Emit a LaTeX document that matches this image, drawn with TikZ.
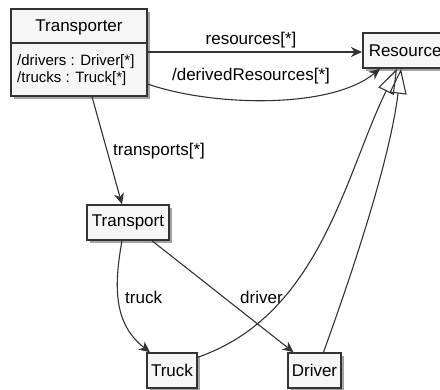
\documentclass[tikz,border=0pt]{standalone}
\usepackage{fontspec}
\setmainfont{Liberation Sans}
\usetikzlibrary{arrows.meta,shadows}
\definecolor{linec}{HTML}{333333}
\definecolor{boxfill}{HTML}{F6F6F6}
\begin{document}
\begin{tikzpicture}[x=1pt,y=-1pt,
  cls/.style={draw=linec, line width=1.5pt, fill=boxfill, inner sep=0pt,
    font=\fontsize{17}{20}\selectfont,
    drop shadow={shadow xshift=3pt, shadow yshift=-3pt, fill=black!45, opacity=0.8}},
  txt/.style={inner sep=0pt, font=\fontsize{17}{20}\selectfont, text=black},
  attr/.style={inner sep=0pt, font=\fontsize{15}{18}\selectfont, text=black},
  lbl/.style={inner sep=0pt, font=\fontsize{17}{20}\selectfont, text=black},
  assoc/.style={draw=linec, line width=1.1pt, -{Stealth[length=11pt,width=10pt,inset=3.5pt]}},
  gen/.style={draw=linec, line width=1.1pt, -{Triangle[open,length=25pt,width=17pt,line width=1.1pt]}}
]
\useasboundingbox (0,0) rectangle (440,390);

% Transporter class
\node[cls, minimum width=136pt, minimum height=87pt] (tp) at (79,52.5) {};
\draw[linec, line width=1.5pt] (tp.west |- 0,43) -- (tp.east |- 0,43);
\node[txt] (tpname) at (79,27) {Transporter};
\node[attr, anchor=base west] (a1) at (17,66) {/drivers : Driver[*]};
\node[attr, anchor=base west] (a2) at (17,83) {/trucks : Truck[*]};

% Other classes
\node[cls, anchor=west, minimum height=35pt, inner xsep=6pt] (res) at (362,50.5) {Resource};
\node[cls, minimum width=82pt, minimum height=35pt] (tr) at (128,222.5) {Transport};
\node[cls, minimum width=50pt, minimum height=35pt] (trk) at (172,370.5) {Truck};
\node[cls, minimum width=53pt, minimum height=35pt] (drv) at (314.5,370.5) {Driver};

% associations
\draw[assoc] (tp.east |- 0,52) -- (res.west |- 0,52);
\node[lbl] (l1) at (251,40) {resources[*]};

\draw[assoc] (tp.east |- 0,84) .. controls (210,106) and (330,110) .. ([xshift=18pt]res.south west);
\node[lbl] (l2) at (251,76) {/derivedResources[*]};

\draw[assoc] ([xshift=13pt]tp.south) -- ([xshift=-6pt]tr.north);
\node[lbl, anchor=west] (l3) at (113,151) {transports[*]};

\draw[assoc] ([xshift=-6pt]tr.south) .. controls (113,290) and (115,325) .. ([xshift=-22pt]trk.north);
\node[lbl, anchor=west] (l4) at (125,297) {truck};

\draw[assoc] ([xshift=24pt]tr.south) -- ([xshift=-21pt]drv.north);
\node[lbl, anchor=west] (l5) at (240,297) {driver};

% generalizations
\draw[gen] ([yshift=-5pt]trk.north east) .. controls (320,315) and (345,175) .. ([xshift=35pt]res.south west);
\draw[gen] ([xshift=9pt]drv.north) .. controls (343,298) and (389,168) .. ([xshift=39pt]res.south west);
\end{tikzpicture}
\end{document}
